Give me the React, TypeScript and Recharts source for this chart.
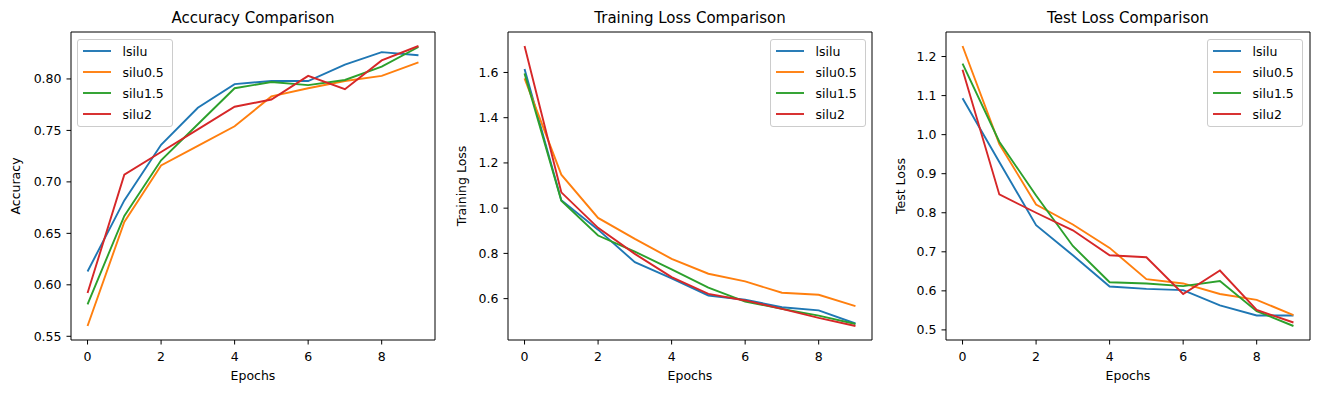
import { LineChart, Line, XAxis, YAxis, Legend, ReferenceLine } from 'recharts';

const epochs = [0, 1, 2, 3, 4, 5, 6, 7, 8, 9];
const seriesNames = ['lsilu', 'silu0.5', 'silu1.5', 'silu2'];
const seriesKeys = ['lsilu', 'silu05', 'silu15', 'silu2'];
const seriesColors = ['#1f77b4', '#ff7f0e', '#2ca02c', '#d62728'];

// accuracy per epoch
const accLsilu = [0.613, 0.682, 0.736, 0.772, 0.795, 0.798, 0.798, 0.814, 0.826, 0.823];
const accSilu05 = [0.56, 0.661, 0.716, 0.735, 0.754, 0.783, 0.791, 0.798, 0.803, 0.816];
const accSilu15 = [0.581, 0.667, 0.721, 0.756, 0.791, 0.797, 0.794, 0.799, 0.812, 0.831];
const accSilu2 = [0.592, 0.707, 0.729, 0.751, 0.773, 0.78, 0.803, 0.79, 0.818, 0.832];

// training loss per epoch
const trainLsilu = [1.615, 1.035, 0.905, 0.761, 0.69, 0.614, 0.595, 0.562, 0.548, 0.49];
const trainSilu05 = [1.574, 1.148, 0.957, 0.864, 0.776, 0.71, 0.676, 0.626, 0.617, 0.567];
const trainSilu15 = [1.596, 1.033, 0.879, 0.808, 0.729, 0.649, 0.587, 0.555, 0.525, 0.488];
const trainSilu2 = [1.717, 1.07, 0.913, 0.798, 0.695, 0.621, 0.592, 0.555, 0.515, 0.479];

// test loss per epoch
const testLsilu = [1.093, 0.93, 0.768, 0.691, 0.611, 0.605, 0.602, 0.563, 0.537, 0.537];
const testSilu05 = [1.227, 0.976, 0.821, 0.77, 0.71, 0.63, 0.619, 0.592, 0.577, 0.538];
const testSilu15 = [1.182, 0.982, 0.844, 0.715, 0.622, 0.619, 0.612, 0.625, 0.548, 0.51];
const testSilu2 = [1.166, 0.847, 0.8, 0.755, 0.691, 0.686, 0.592, 0.652, 0.551, 0.519];

const xTicks = [0, 2, 4, 6, 8];
const accTicks = [0.55, 0.6, 0.65, 0.7, 0.75, 0.8];
const trainTicks = [0.6, 0.8, 1.0, 1.2, 1.4, 1.6];
const testTicks = [0.5, 0.6, 0.7, 0.8, 0.9, 1.0, 1.1, 1.2];

const FONT = 'DejaVu Sans';
const W = 437;
const H = 393;
const X_DOMAIN = [-0.45, 9.45];

function buildRows(series: number[][]) {
  return epochs.map((epoch, i) => {
    const row: Record<string, number> = { epoch };
    seriesKeys.forEach((k, j) => {
      row[k] = series[j][i];
    });
    return row;
  });
}

function MplLegend({ payload }: any) {
  return (
    <div
      style={{
        width: 96,
        height: 88,
        boxSizing: 'border-box',
        border: '1px solid #cccccc',
        borderRadius: 3,
        background: 'rgba(255,255,255,0.8)',
        paddingTop: 0.5,
        fontFamily: FONT,
        fontSize: 12.5,
        color: '#000',
      }}
    >
      {(payload || []).map((p: any) => (
        <div key={p.value} style={{ display: 'flex', alignItems: 'center', height: 21 }}>
          <svg width={40} height={4} style={{ marginLeft: 4.5, flex: 'none' }}>
            <line x1={0} y1={2} x2={28} y2={2} stroke={p.color} strokeWidth={1.9} />
          </svg>
          <span style={{ whiteSpace: 'nowrap' }}>{p.value}</span>
        </div>
      ))}
    </div>
  );
}

interface PanelProps {
  title: string;
  yLabel: string;
  series: number[][];
  yTicks: number[];
  digits: number;
  left: number;
  legendLeft: number;
  labelOffset: number;
}

function Panel({ title, yLabel, series, yTicks, digits, left, legendLeft, labelOffset }: PanelProps) {
  const data = buildRows(series);
  const all = series.flat();
  const lo = Math.min(...all);
  const hi = Math.max(...all);
  const pad = (hi - lo) * 0.05;
  const yDomain = [lo - pad, hi + pad];

  return (
    <div style={{ position: 'absolute', left, top: 0, width: W, height: H }}>
      <div
        style={{
          position: 'absolute',
          left: 71,
          width: 364,
          top: 8,
          lineHeight: '20px',
          textAlign: 'center',
          fontFamily: FONT,
          fontSize: 15,
          color: '#000',
        }}
      >
        {title}
      </div>
      <LineChart width={W} height={H} data={data} margin={{ top: 32, right: 2, bottom: 0, left: 0 }}>
        <XAxis
          dataKey="epoch"
          type="number"
          domain={X_DOMAIN}
          ticks={xTicks}
          height={53}
          stroke="#000"
          tickSize={4.5}
          tickMargin={7.5}
          tick={{ fontSize: 12.5, fill: '#000', fontFamily: FONT }}
          label={{ value: 'Epochs', position: 'insideBottom', offset: 13, fontSize: 12.5, fill: '#000', fontFamily: FONT }}
        />
        <YAxis
          type="number"
          domain={yDomain}
          ticks={yTicks}
          width={71}
          stroke="#000"
          tickSize={4.5}
          tickMargin={5}
          tickFormatter={(v: number) => v.toFixed(digits)}
          tick={{ fontSize: 12.5, fill: '#000', fontFamily: FONT }}
          label={{
            value: yLabel,
            angle: -90,
            position: 'insideLeft',
            offset: labelOffset,
            fontSize: 12.5,
            fill: '#000',
            fontFamily: FONT,
            style: { textAnchor: 'middle' },
          }}
        />
        {/* top and right spines */}
        <ReferenceLine y={yDomain[1]} stroke="#000" strokeWidth={1} ifOverflow="extendDomain" />
        <ReferenceLine x={X_DOMAIN[1]} stroke="#000" strokeWidth={1} ifOverflow="extendDomain" />
        {seriesKeys.map((k, j) => (
          <Line
            key={k}
            type="linear"
            dataKey={k}
            name={seriesNames[j]}
            stroke={seriesColors[j]}
            strokeWidth={1.9}
            dot={false}
            isAnimationActive={false}
          />
        ))}
        <Legend
          layout="vertical"
          align="center"
          verticalAlign="middle"
          content={<MplLegend />}
          wrapperStyle={{ left: legendLeft, top: 39, width: 'auto', height: 'auto' }}
        />
      </LineChart>
    </div>
  );
}

export default function App() {
  return (
    <div style={{ position: 'absolute', left: 0, top: 0, width: 1320, height: 393, background: '#fff' }}>
      <Panel
        title="Accuracy Comparison"
        yLabel="Accuracy"
        series={[accLsilu, accSilu05, accSilu15, accSilu2]}
        yTicks={accTicks}
        digits={2}
        left={0}
        legendLeft={77}
        labelOffset={16}
      />
      <Panel
        title="Training Loss Comparison"
        yLabel="Training Loss"
        series={[trainLsilu, trainSilu05, trainSilu15, trainSilu2]}
        yTicks={trainTicks}
        digits={1}
        left={437}
        legendLeft={333}
        labelOffset={25}
      />
      <Panel
        title="Test Loss Comparison"
        yLabel="Test Loss"
        series={[testLsilu, testSilu05, testSilu15, testSilu2]}
        yTicks={testTicks}
        digits={1}
        left={875}
        legendLeft={332}
        labelOffset={26}
      />
    </div>
  );
}
